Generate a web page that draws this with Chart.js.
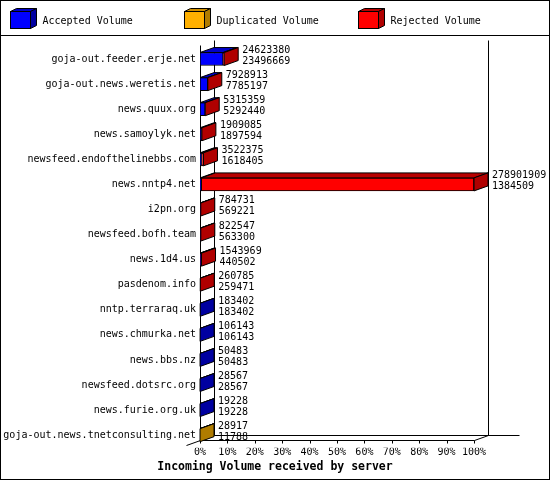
<!DOCTYPE html>
<html>
<head>
<meta charset="utf-8">
<script src="https://cdn.jsdelivr.net/npm/chart.js@4"></script>
<style>
  html, body { margin: 0; padding: 0; background: #fff; }
  canvas { display: block; }
</style>
</head>
<body>
<canvas id="chart-incoming" width="550" height="480"></canvas>
<script>
// feeds, top to bottom
const servers = [
    'goja-out.feeder.erje.net', 'goja-out.news.weretis.net', 'news.quux.org', 'news.samoylyk.net',
    'newsfeed.endofthelinebbs.com', 'news.nntp4.net', 'i2pn.org', 'newsfeed.bofh.team',
    'news.1d4.us', 'pasdenom.info', 'nntp.terraraq.uk', 'news.chmurka.net',
    'news.bbs.nz', 'newsfeed.dotsrc.org', 'news.furie.org.uk', 'goja-out.news.tnetconsulting.net'
];
const offeredVolume = [24623380, 7928913, 5315359, 1909085, 3522375, 278901909, 784731, 822547,
    1543969, 260785, 183402, 106143, 50483, 28567, 19228, 28917];
const acceptedVolume = [23496669, 7785197, 5292440, 1897594, 1618405, 1384509, 569221, 563300,
    440502, 259471, 183402, 106143, 50483, 28567, 19228, 11788];
const duplicatedVolume = [0, 0, 0, 0, 0, 0, 0, 0, 0, 0, 0, 0, 0, 0, 0, 17129];
const rejectedVolume = [1126711, 143716, 22919, 11491, 1903970, 277517400, 215510, 259247,
    1103467, 1314, 0, 0, 0, 0, 0, 0];

const DX = 14, DY = -5;
const monoFont = '"DejaVu Sans Mono", "Liberation Mono", monospace';

Chart.defaults.font.family = monoFont;
Chart.defaults.font.size = 10;
Chart.defaults.color = '#000';

const peak = Math.max(...offeredVolume);
const toPercent = arr => arr.map(v => v / peak * 100);

function face(ctx, pts, fill) {
    ctx.beginPath();
    ctx.moveTo(pts[0][0], pts[0][1]);
    for (let i = 1; i < pts.length; i++) ctx.lineTo(pts[i][0], pts[i][1]);
    ctx.closePath();
    ctx.fillStyle = fill;
    ctx.fill();
    ctx.stroke();
}

function line(ctx, x1, y1, x2, y2) {
    ctx.beginPath();
    ctx.moveTo(x1, y1);
    ctx.lineTo(x2, y2);
    ctx.stroke();
}

// gd-style 3d frame, bar tops/sides, value labels and legend
const box3d = {
    id: 'box3d',
    beforeDatasetsDraw(chart) {
        const { ctx, chartArea, scales: { x } } = chart;
        const x0 = Math.round(x.getPixelForValue(0)) + 0.5;
        const x1 = Math.round(x.getPixelForValue(100)) + 0.5;
        const top = Math.round(chartArea.top) - 1.5;
        const floor = Math.round(chartArea.bottom) - 7.5;
        ctx.save();
        ctx.strokeStyle = '#000';
        ctx.lineWidth = 1;
        line(ctx, x0, top, x0, floor);
        line(ctx, x0 + DX, top + DY, x0 + DX, floor + DY);
        line(ctx, x1 + DX, top + DY, x1 + DX, floor + DY);
        line(ctx, x0 + DX, floor + DY, x1 + DX + 31, floor + DY);
        line(ctx, x0 - DX, floor - DY, x0 + DX, floor + DY);
        line(ctx, x0, floor, x1, floor);
        line(ctx, x1, floor, x1 + DX, floor + DY);
        x.ticks.forEach((t, i) => {
            const px = Math.round(x.getPixelForTick(i)) + 0.5;
            line(ctx, px, floor, px, floor + 3);
        });
        ctx.restore();
    },
    afterDatasetsDraw(chart) {
        const { ctx } = chart;
        const sets = chart.data.datasets;
        ctx.save();
        ctx.strokeStyle = '#000';
        ctx.lineWidth = 1;
        servers.forEach((name, i) => {
            let last = null;
            sets.forEach((ds, d) => {
                const el = chart.getDatasetMeta(d).data[i];
                if (!(ds.data[i] > 0)) return;
                const p = el.getProps(['x', 'y', 'base', 'height'], true);
                const yt = p.y - p.height / 2;
                face(ctx, [[p.base, yt], [p.x, yt], [p.x + DX, yt + DY], [p.base + DX, yt + DY]], ds.topColor);
                last = { p, ds };
            });
            if (!last) return;
            const p = last.p;
            const yt = p.y - p.height / 2, yb = p.y + p.height / 2;
            face(ctx, [[p.x, yt], [p.x + DX, yt + DY], [p.x + DX, yb + DY], [p.x, yb]], last.ds.sideColor);

            ctx.fillStyle = '#000';
            ctx.font = '10px ' + monoFont;
            ctx.textAlign = 'left';
            ctx.textBaseline = 'alphabetic';
            ctx.fillText(String(offeredVolume[i]), p.x + DX + 4, p.y - 6);
            ctx.fillText(String(acceptedVolume[i]), p.x + DX + 4, p.y + 5);
        });
        ctx.restore();
    },
    afterDraw(chart) {
        const { ctx, width, height } = chart;
        ctx.save();
        ctx.strokeStyle = '#000';
        ctx.lineWidth = 1;
        ctx.strokeRect(0.5, 0.5, width - 1, height - 1);
        line(ctx, 0, 35.5, width, 35.5);
        chart.data.datasets.forEach((ds, d) => {
            const bx = 10.5 + d * 174, by = 11.5, bw = 20, bh = 17;
            ctx.fillStyle = ds.backgroundColor;
            ctx.fillRect(bx, by, bw, bh);
            ctx.strokeRect(bx, by, bw, bh);
            face(ctx, [[bx, by], [bx + bw, by], [bx + bw + 6, by - 3], [bx + 6, by - 3]], ds.topColor);
            face(ctx, [[bx + bw, by], [bx + bw + 6, by - 3], [bx + bw + 6, by + bh - 3], [bx + bw, by + bh]], ds.sideColor);
            ctx.fillStyle = '#000';
            ctx.font = '10px ' + monoFont;
            ctx.textAlign = 'left';
            ctx.textBaseline = 'alphabetic';
            ctx.fillText(ds.label, bx + 32, 23.5);
        });
        ctx.restore();
    }
};

const ctx = document.getElementById('chart-incoming').getContext('2d');
new Chart(ctx, {
    type: 'bar',
    data: {
        labels: servers,
        datasets: [
            { label: 'Accepted Volume', data: toPercent(acceptedVolume), backgroundColor: '#0000ff', topColor: '#0000c8', sideColor: '#0000a0' },
            { label: 'Duplicated Volume', data: toPercent(duplicatedVolume), backgroundColor: '#ffb000', topColor: '#d09000', sideColor: '#b07c00' },
            { label: 'Rejected Volume', data: toPercent(rejectedVolume), backgroundColor: '#ff0000', topColor: '#b80000', sideColor: '#b00000' }
        ].map(ds => Object.assign(ds, {
            xAxisID: 'x', yAxisID: 'y',
            borderColor: '#000', borderWidth: 1, borderSkipped: false, barThickness: 13
        }))
    },
    options: {
        indexAxis: 'y',
        responsive: false,
        animation: false,
        devicePixelRatio: 1,
        events: [],
        layout: { padding: { top: 46.5, right: 0, left: 0, bottom: 0 } },
        scales: {
            x: {
                stacked: true, min: 0, max: 100,
                grid: { display: false, drawTicks: false },
                border: { display: false },
                ticks: { stepSize: 10, autoSkip: false, maxRotation: 0, padding: -1, callback: v => v + '%' },
                afterFit: s => { s.height = 12.5; }
            },
            y: {
                stacked: true,
                grid: { display: false, drawTicks: false },
                border: { display: false },
                ticks: { padding: 4, autoSkip: false },
                afterFit: s => { s.width = 200; }
            },
            // empty strip on the right that holds the value labels
            yGutter: {
                type: 'linear', position: 'right',
                grid: { display: false, drawTicks: false },
                border: { display: false },
                ticks: { display: false },
                afterFit: s => { s.width = 76; }
            }
        },
        plugins: {
            legend: { display: false },
            tooltip: { enabled: false },
            title: {
                display: true, position: 'bottom', color: '#000',
                text: 'Incoming Volume received by server',
                font: { family: monoFont, size: 11.5, weight: 'bold' },
                padding: { top: 0, bottom: 6 }
            }
        }
    },
    plugins: [box3d]
});
</script>
</body>
</html>
